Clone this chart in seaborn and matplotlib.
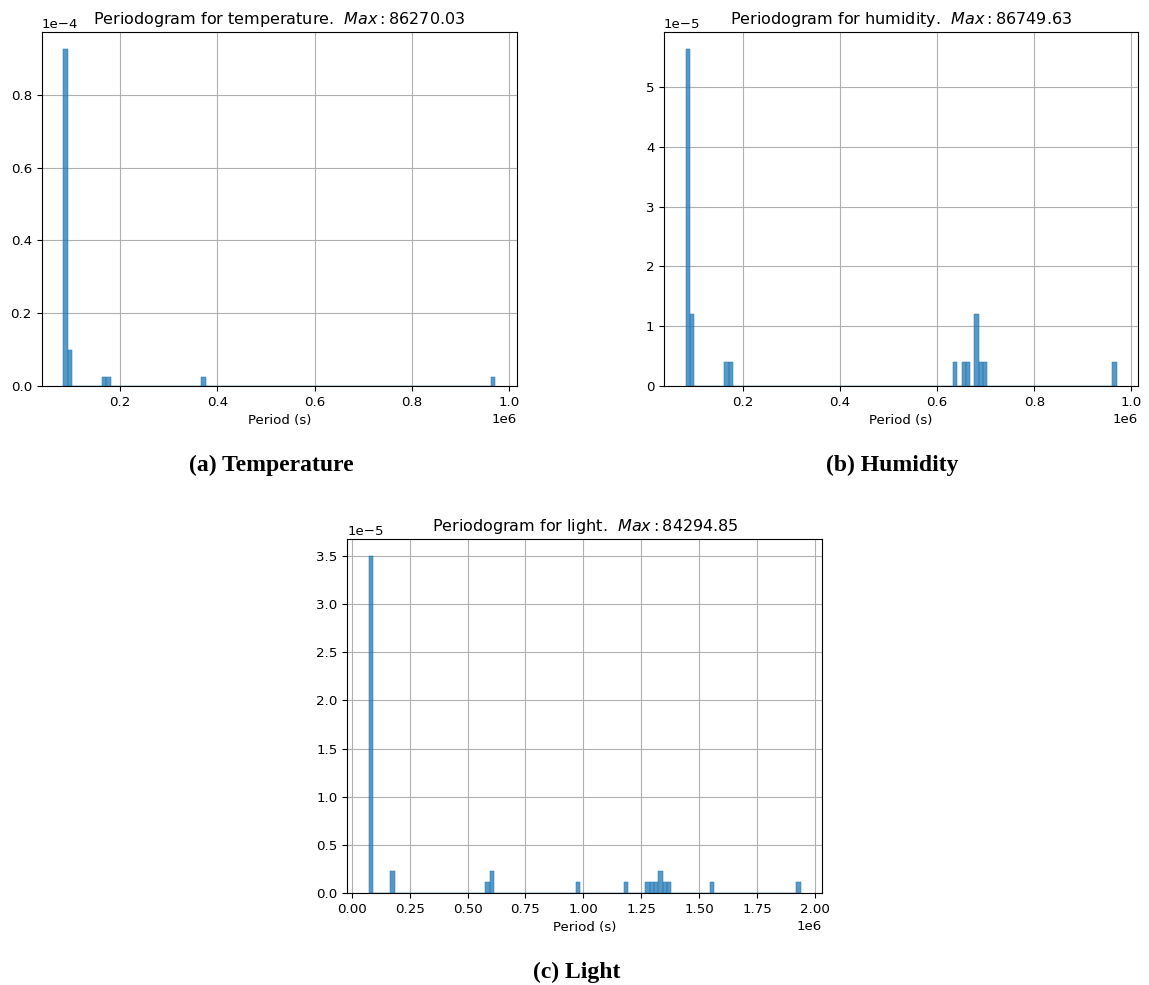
import matplotlib
matplotlib.use("Agg")
import matplotlib.pyplot as plt
from matplotlib.ticker import ScalarFormatter
import seaborn as sns

# ---- data (period values in seconds, and how many periodogram peaks fall there) ----
temp_periods = [86270, 95000, 167000, 176000, 371500, 967000]
temp_counts = [37, 4, 1, 1, 1, 1]
temp_range = (82700, 971300)
temp_max = 86270.03

hum_periods = [86750, 95800, 166800, 175700, 636200, 654900, 663700,
               681500, 690300, 699200, 965400]
hum_counts = [14, 3, 1, 1, 1, 1, 1, 3, 1, 1, 1]
hum_range = (82470, 969870)
hum_max = 86749.63

light_periods = [84295, 177000, 587000, 605500, 978000, 1184000, 1277000,
                 1295500, 1314000, 1332500, 1351000, 1370000, 1557500, 1929000]
light_counts = [30, 2, 1, 2, 1, 1, 1, 1, 1, 2, 1, 1, 1, 1]
light_range = (74200, 1938400)
light_max = 84294.85

names = ["temperature", "humidity", "light"]
captions = ["(a) Temperature", "(b) Humidity", "(c) Light"]
y_orders = [-4, -5, -5]

FS = 9.6
plt.rcParams.update({
    "font.size": FS,
    "axes.titlesize": FS * 1.2,
    "axes.labelsize": FS,
    "xtick.labelsize": FS,
    "ytick.labelsize": FS,
})

W, H = 1149, 985
fig = plt.figure(figsize=(W / 100, H / 100), dpi=100)

def rect(l, t, r, b):
    return [l / W, 1 - b / H, (r - l) / W, (b - t) / H]

axes_rects = [rect(41.7, 32.3, 516.7, 386), rect(664, 32.3, 1138.3, 386),
              rect(347.3, 539.3, 822.3, 893)]
datasets = [(temp_periods, temp_counts, temp_range, temp_max),
            (hum_periods, hum_counts, hum_range, hum_max),
            (light_periods, light_counts, light_range, light_max)]

for r, (p, c, rg, mx), name, oom in zip(axes_rects, datasets, names, y_orders):
    ax = fig.add_axes(r)
    ax.set_axisbelow(True)
    ax.grid(True, color="#b0b0b0", linewidth=0.8)
    sns.histplot(x=p, weights=c, bins=100, binrange=rg, stat="density",
                 color="#1f77b4", edgecolor="#1f77b4", linewidth=0.35, ax=ax)
    ax.set_title(f"Periodogram for {name}.  $Max: {mx:.2f}$")
    ax.set_xlabel("Period (s)")
    ax.set_ylabel("")
    fmt = ScalarFormatter()
    fmt.set_powerlimits((oom, oom))
    ax.yaxis.set_major_formatter(fmt)

cap_pos = [(271, 465), (892.5, 465), (577, 972)]
for (x, y), cap in zip(cap_pos, captions):
    fig.text(x / W, 1 - y / H, cap, ha="center", va="center",
             fontsize=17, fontweight="bold",
             family=["Liberation Serif", "DejaVu Serif"])

fig.savefig("out.png", dpi=100)
